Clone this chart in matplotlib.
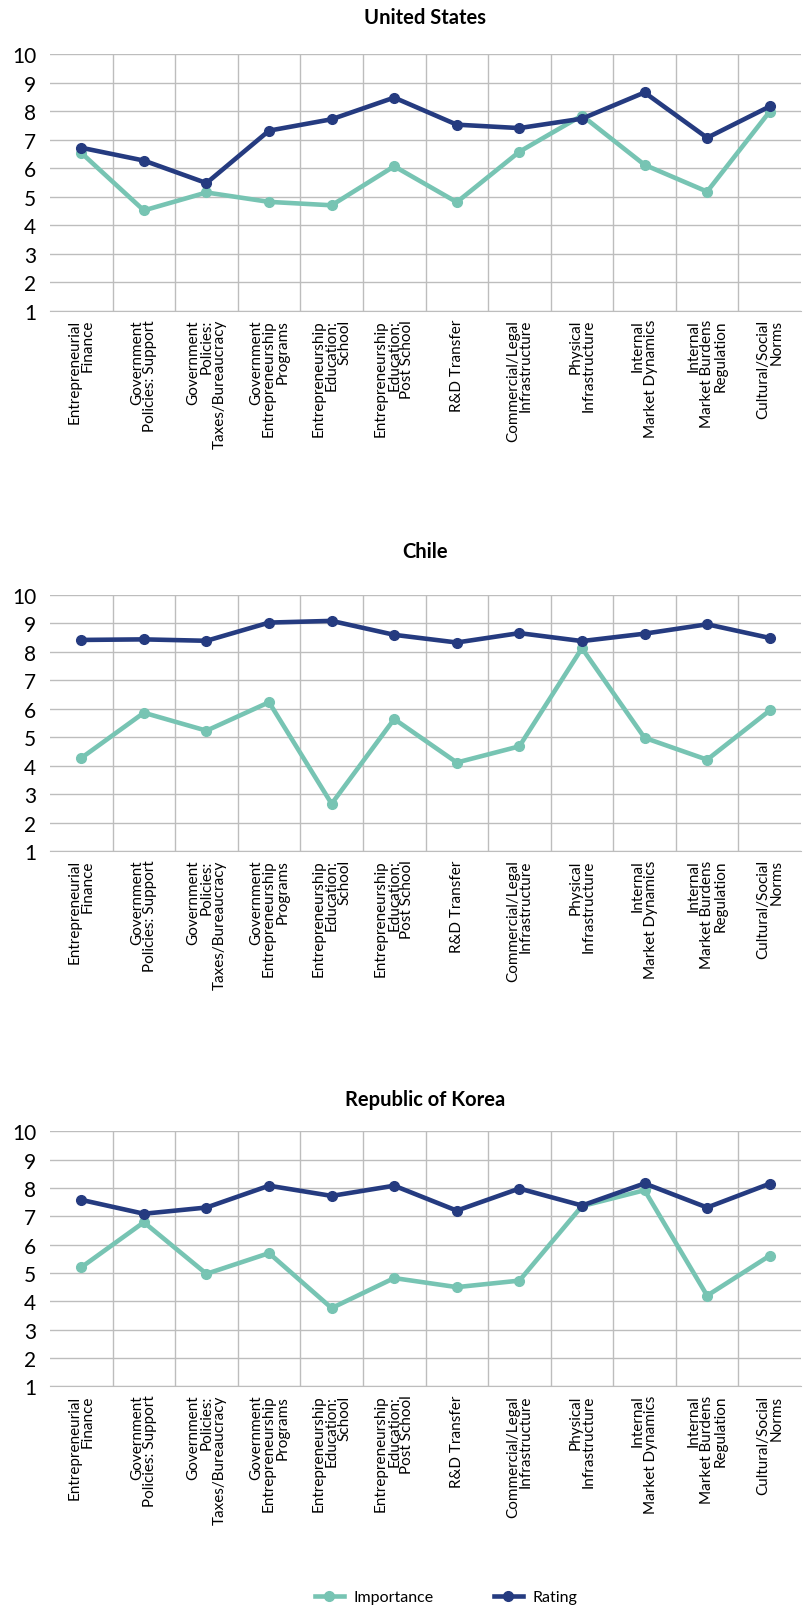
import matplotlib
matplotlib.use('Agg')
import matplotlib.pyplot as plt
from matplotlib.lines import Line2D

plt.rcParams['font.family'] = ['Lato', 'DejaVu Sans']

# カテゴリ
categories = [
    'Entrepreneurial\nFinance',
    'Government\nPolicies: Support',
    'Government\nPolicies:\nTaxes/Bureaucracy',
    'Government\nEntrepreneurship\nPrograms',
    'Entrepreneurship\nEducation:\nSchool',
    'Entrepreneurship\nEducation:\nPost School',
    'R&D Transfer',
    'Commercial/Legal\nInfrastructure',
    'Physical\nInfrastructure',
    'Internal\nMarket Dynamics',
    'Internal\nMarket Burdens\nRegulation',
    'Cultural/Social\nNorms',
]

countries = ['United States', 'Chile', 'Republic of Korea']

# 各国のデータ
us_importance = [6.54, 4.52, 5.15, 4.82, 4.70, 6.07, 4.81, 6.58, 7.85, 6.12, 5.18, 7.99]
us_rating = [6.72, 6.27, 5.48, 7.32, 7.72, 8.48, 7.53, 7.41, 7.74, 8.66, 7.07, 8.17]

chile_importance = [4.27, 5.86, 5.23, 6.23, 2.66, 5.64, 4.11, 4.68, 8.13, 4.98, 4.21, 5.94]
chile_rating = [8.42, 8.44, 8.39, 9.03, 9.09, 8.60, 8.33, 8.66, 8.38, 8.64, 8.97, 8.49]

korea_importance = [5.20, 6.79, 4.97, 5.70, 3.76, 4.82, 4.50, 4.73, 7.36, 7.92, 4.20, 5.61]
korea_rating = [7.58, 7.09, 7.31, 8.08, 7.72, 8.08, 7.20, 7.98, 7.38, 8.16, 7.31, 8.15]

importance = [us_importance, chile_importance, korea_importance]
rating = [us_rating, chile_rating, korea_rating]

teal = '#77C4B3'
navy = '#253B80'
grid_c = '#bdbdbd'

W, H = 808, 1608
fig = plt.figure(figsize=(W / 100, H / 100), dpi=100)

# 各グラフの上端・下端 (ピクセル)
ax_top = [55.3, 596, 1132.3]
ax_bottom = [311.7, 852, 1387.3]
title_y = [18.5, 552, 1100]
left, right = 50, 801

for i in range(3):
    ax = fig.add_axes([left / W, 1 - ax_bottom[i] / H,
                       (right - left) / W, (ax_bottom[i] - ax_top[i]) / H])
    x = list(range(len(categories)))
    ax.plot(x, importance[i], color=teal, lw=3.3, marker='o', ms=7, zorder=3)
    ax.plot(x, rating[i], color=navy, lw=3.3, marker='o', ms=7, zorder=4)

    ax.set_xlim(-0.5, len(categories) - 0.5)
    ax.set_ylim(1, 10)
    ax.set_yticks(range(1, 11))
    ax.set_xticks(x)
    ax.set_xticks([k + 0.5 for k in range(len(categories) - 1)], minor=True)
    ax.set_xticklabels(categories, rotation=90, fontsize=11,
                       multialignment='right', linespacing=0.92)
    ax.tick_params(axis='x', which='both', length=0, pad=6)
    ax.tick_params(axis='y', length=0, labelsize=15, pad=10)
    ax.grid(True, axis='y', which='major', color=grid_c, lw=1)
    ax.grid(True, axis='x', which='minor', color=grid_c, lw=1)
    ax.grid(False, axis='x', which='major')
    for s in ['left', 'right', 'top']:
        ax.spines[s].set_visible(False)
    ax.spines['bottom'].set_color(grid_c)
    ax.set_axisbelow(True)

    fig.text((left + right) / 2 / W, 1 - title_y[i] / H, countries[i],
             ha='center', va='center', fontsize=14.5, fontweight='bold')

handles = [
    Line2D([], [], color=teal, lw=3.3, marker='o', ms=7),
    Line2D([], [], color=navy, lw=3.3, marker='o', ms=7),
]
fig.legend(handles, ['Importance', 'Rating'], loc='center',
           bbox_to_anchor=(446 / W, 1 - 1598 / H), ncol=2, frameon=False,
           fontsize=11.5, handlelength=1.8, handletextpad=0.6, columnspacing=3.8)

fig.savefig('out.png', dpi=100)
